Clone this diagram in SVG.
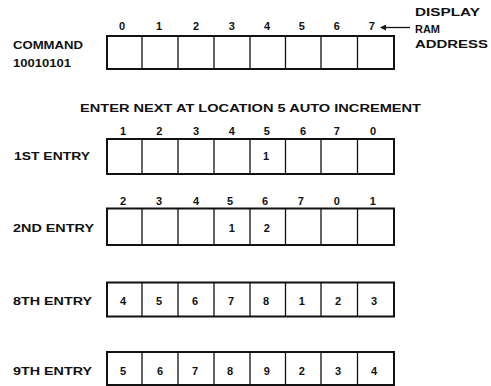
<svg xmlns="http://www.w3.org/2000/svg" width="491" height="386" viewBox="0 0 491 386">
<style>
text{font-family:"Liberation Sans",Arial,sans-serif;font-weight:bold;fill:#111}
.lbl{font-size:11.5px}
.d{font-size:11px;text-anchor:middle}
.box{fill:none;stroke:#111;stroke-width:2}
.div{stroke:#111;stroke-width:1.3}
</style>
<defs>
<marker id="ah" markerWidth="6" markerHeight="6" refX="5" refY="3" orient="auto" markerUnits="userSpaceOnUse">
<path d="M0,0 L6,3 L0,6 Z" fill="#111"/>
</marker>
</defs>
<rect width="491" height="386" fill="#fff"/>

<g id="command">
<text class="lbl" x="13" y="48.5" textLength="70" lengthAdjust="spacingAndGlyphs">COMMAND</text>
<text class="lbl" x="13" y="66.7" textLength="58" lengthAdjust="spacingAndGlyphs">10010101</text>
<rect class="box" x="107" y="36" width="287" height="33"/>
<path class="div" d="M142,36V69M178,36V69M214,36V69M250,36V69M285.5,36V69M321,36V69M357.5,36V69"/>
<text class="d" x="122" y="30">0</text><text class="d" x="159" y="30">1</text><text class="d" x="196" y="30">2</text><text class="d" x="231.7" y="30">3</text><text class="d" x="267" y="30">4</text><text class="d" x="301.7" y="30">5</text><text class="d" x="336.7" y="30">6</text><text class="d" x="371.7" y="30">7</text>
</g>

<g id="display-ram-address">
<text class="lbl" x="415" y="16" textLength="65" lengthAdjust="spacingAndGlyphs">DISPLAY</text>
<text class="lbl" x="415" y="32.5" textLength="25" lengthAdjust="spacingAndGlyphs">RAM</text>
<text class="lbl" x="415" y="48" textLength="73" lengthAdjust="spacingAndGlyphs">ADDRESS</text>
</g>

<g id="caption">
<text class="lbl" x="80" y="111.5" textLength="341" lengthAdjust="spacingAndGlyphs">ENTER NEXT AT LOCATION 5 AUTO INCREMENT</text>
</g>

<g id="entry1">
<text class="lbl" x="14" y="160" textLength="76" lengthAdjust="spacingAndGlyphs">1ST ENTRY</text>
<rect class="box" x="107" y="139" width="287" height="35"/>
<path class="div" d="M142,139V174M178,139V174M214,139V174M250,139V174M285.5,139V174M321,139V174M357.5,139V174"/>
<text class="d" x="123" y="135">1</text><text class="d" x="159.3" y="135">2</text><text class="d" x="196" y="135">3</text><text class="d" x="231.7" y="135">4</text><text class="d" x="266.7" y="135">5</text><text class="d" x="303" y="135">6</text><text class="d" x="336.7" y="135">7</text><text class="d" x="373" y="135">0</text>
<text class="d" x="266" y="160">1</text>
</g>

<g id="entry2">
<text class="lbl" x="13" y="231.7" textLength="81" lengthAdjust="spacingAndGlyphs">2ND ENTRY</text>
<rect class="box" x="107" y="208.5" width="287" height="36.5"/>
<path class="div" d="M142,208.5V245M178,208.5V245M214,208.5V245M250,208.5V245M285.5,208.5V245M321,208.5V245M357.5,208.5V245"/>
<text class="d" x="123" y="205">2</text><text class="d" x="159" y="205">3</text><text class="d" x="196" y="205">4</text><text class="d" x="230" y="205">5</text><text class="d" x="265" y="205">6</text><text class="d" x="300.7" y="205">7</text><text class="d" x="336.7" y="205">0</text><text class="d" x="372.7" y="205">1</text>
<text class="d" x="231.7" y="232">1</text><text class="d" x="266.7" y="232">2</text>
</g>

<g id="entry8">
<text class="lbl" x="13" y="305" textLength="79" lengthAdjust="spacingAndGlyphs">8TH ENTRY</text>
<rect class="box" x="107" y="282.5" width="287" height="34"/>
<path class="div" d="M142,282.5V316.5M178,282.5V316.5M214,282.5V316.5M250,282.5V316.5M285.5,282.5V316.5M321,282.5V316.5M357.5,282.5V316.5"/>
<text class="d" x="123" y="305">4</text><text class="d" x="159" y="305">5</text><text class="d" x="195" y="305">6</text><text class="d" x="231" y="305">7</text><text class="d" x="266" y="305">8</text><text class="d" x="301.7" y="305">1</text><text class="d" x="338" y="305">2</text><text class="d" x="374" y="305">3</text>
</g>

<g id="entry9">
<text class="lbl" x="13" y="375" textLength="79" lengthAdjust="spacingAndGlyphs">9TH ENTRY</text>
<rect class="box" x="107" y="352" width="287" height="33"/>
<path class="div" d="M142,352V385M178,352V385M214,352V385M250,352V385M285.5,352V385M321,352V385M357.5,352V385"/>
<text class="d" x="123" y="375">5</text><text class="d" x="160" y="375">6</text><text class="d" x="195" y="375">7</text><text class="d" x="230" y="375">8</text><text class="d" x="266.7" y="375">9</text><text class="d" x="301.7" y="375">2</text><text class="d" x="338" y="375">3</text><text class="d" x="374" y="375">4</text>
</g>

<g id="connectors">
<line x1="410" y1="27.5" x2="381" y2="27.5" stroke="#111" stroke-width="1.3" marker-end="url(#ah)"/>
</g>
</svg>
